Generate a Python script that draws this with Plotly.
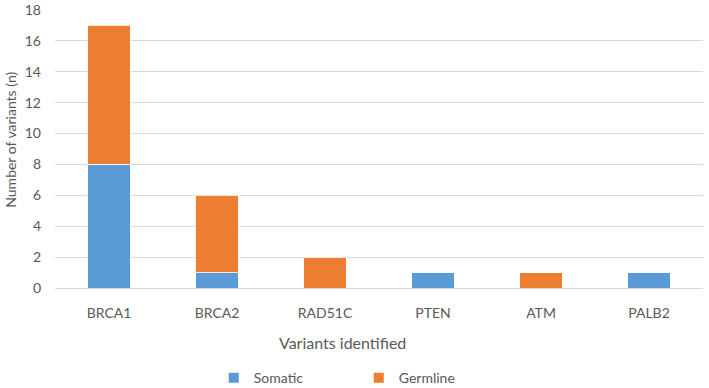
import plotly.graph_objects as go

categories = ["BRCA1", "BRCA2", "RAD51C", "PTEN", "ATM", "PALB2"]
somatic = [8, 1, 0, 1, 0, 1]
germline = [9, 5, 2, 0, 1, 0]
y_ticks = [0, 2, 4, 6, 8, 10, 12, 14, 16, 18]

BLUE = "#5B9BD5"
ORANGE = "#ED7D31"
TXT = "#595959"
FONT = "Lato"

fig = go.Figure()
fig.add_trace(go.Bar(x=categories, y=somatic, name="Somatic",
                     marker=dict(color=BLUE, line=dict(color="white", width=0.8))))
fig.add_trace(go.Bar(x=categories, y=germline, name="Germline",
                     marker=dict(color=ORANGE, line=dict(color="white", width=0.8))))

fig.update_layout(
    barmode="stack",
    bargap=0.61,
    width=709, height=388,
    margin=dict(l=55, r=6, t=10, b=100, autoexpand=False),
    paper_bgcolor="white", plot_bgcolor="white",
    font=dict(family=FONT, size=13, color=TXT),
    showlegend=True,
    legend=dict(orientation="h", x=0.245, xanchor="left", y=-0.324, yanchor="middle",
                entrywidth=100, entrywidthmode="pixels",
                font=dict(family=FONT, size=14, color=TXT), itemsizing="constant",
                traceorder="normal"),
    xaxis=dict(showline=False, ticks="", tickfont=dict(size=14, color=TXT), ticklabelstandoff=15),
    yaxis=dict(range=[0, 18], tickvals=y_ticks, showgrid=True, gridcolor="#D9D9D9",
               gridwidth=1, zeroline=True, zerolinecolor="#D9D9D9", zerolinewidth=1,
               tickfont=dict(size=14, color=TXT), ticklabelstandoff=13),
    annotations=[
        dict(text="Variants identified", x=0.444, xref="paper", y=-0.195, yref="paper",
             showarrow=False, font=dict(size=16, color=TXT), xanchor="center", yanchor="middle"),
        dict(text="Number of variants (n)", x=-0.07, xref="paper", y=0.532, yref="paper",
             showarrow=False, textangle=-90, font=dict(size=14, color=TXT),
             xanchor="center", yanchor="middle"),
    ],
)

fig.write_html("out.html")
